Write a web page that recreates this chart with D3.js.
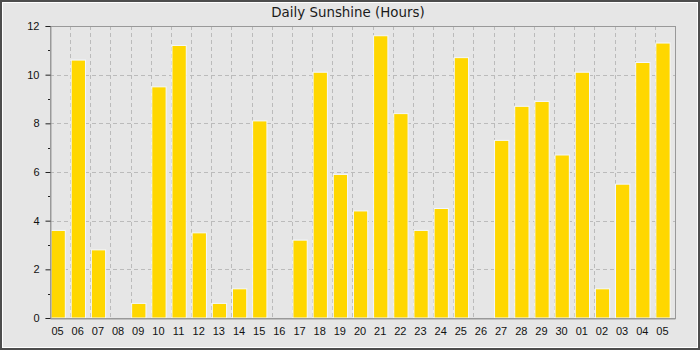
<!DOCTYPE html>
<html>
<head>
<meta charset="utf-8">
<script src="https://cdn.jsdelivr.net/npm/d3@7"></script>
<style>
  body { margin: 0; background: #e6e6e6; }
  svg { display: block; font-family: "DejaVu Sans", sans-serif; }
</style>
</head>
<body>
<div id="container"></div>
<script>
// day labels along the x axis
const days = ["05","06","07","08","09","10","11","12","13","14","15","16","17","18","19","20",
  "21","22","23","24","25","26","27","28","29","30","01","02","03","04","05"]
// hours of sunshine per day
const sunshine = [3.6, 10.6, 2.8, 0, 0.6, 9.5, 11.2, 3.5, 0.6, 1.2, 8.1, 0, 3.2, 10.1, 5.9, 4.4,
  11.6, 8.4, 3.6, 4.5, 10.7, 0, 7.3, 8.7, 8.9, 6.7, 10.1, 1.2, 5.5, 10.5, 11.3]
const yTicks = [0, 2, 4, 6, 8, 10, 12]
const yMinor = [1, 3, 5, 7, 9, 11]

const W = 700, H = 350
const margin = { top: 26, right: 25, bottom: 32, left: 50 }
const width = W - margin.left - margin.right
const height = H - margin.top - margin.bottom

const svg = d3.select("#container")
  .append("svg")
  .attr("width", W)
  .attr("height", H)

// frame
svg.append("rect").attr("x", 0).attr("y", 0).attr("width", W).attr("height", H).attr("fill", "#e6e6e6")
svg.append("rect").attr("x", 1).attr("y", 1).attr("width", W - 2).attr("height", H - 2)
  .attr("fill", "none").attr("stroke", "#4d4d4d").attr("stroke-width", 2)
svg.append("rect").attr("x", 2.5).attr("y", 2.5).attr("width", W - 5).attr("height", H - 5)
  .attr("fill", "none").attr("stroke", "#fff").attr("stroke-width", 1)

svg.append("text")
  .attr("x", 348).attr("y", 16.5)
  .attr("text-anchor", "middle")
  .style("font-size", "13.4px")
  .attr("fill", "#1a1a1a")
  .text("Daily Sunshine (Hours)")

const g = svg.append("g").attr("transform", `translate(${margin.left}, ${margin.top})`)

// index scale so duplicate labels ("05") keep separate bands
const xScale = d3.scaleBand()
  .domain(d3.range(days.length))
  .range([0, width])

const yScale = d3.scaleLinear()
  .domain([0, 12])
  .range([height, 0])

// grid
g.append("g")
  .selectAll("line")
  .data(d3.range(1, days.length))
  .join("line")
  .attr("x1", i => Math.round(xScale(i)) + 0.5)
  .attr("x2", i => Math.round(xScale(i)) + 0.5)
  .attr("y1", 0).attr("y2", height)
  .attr("stroke", "#bbb").attr("stroke-dasharray", "4,3")

g.append("g")
  .selectAll("line")
  .data(yTicks.slice(1, -1))
  .join("line")
  .attr("x1", 0).attr("x2", width)
  .attr("y1", d => Math.round(yScale(d)) + 0.5)
  .attr("y2", d => Math.round(yScale(d)) + 0.5)
  .attr("stroke", "#bbb").attr("stroke-dasharray", "4,3")

// bars
g.append("g")
  .selectAll("rect")
  .data(sunshine)
  .join("rect")
  .attr("x", (d, i) => xScale(i) + 1)
  .attr("y", d => yScale(d))
  .attr("width", xScale.bandwidth() * 0.71)
  .attr("height", d => height - yScale(d))
  .attr("fill", "#ffd700")
  .attr("stroke", d => d > 0 ? "#f4f8ff" : "none")
  .attr("stroke-width", 1)

// plot border
g.append("rect")
  .attr("x", 0.5).attr("y", 0.5).attr("width", width).attr("height", height)
  .attr("fill", "none").attr("stroke", "#999")

// y axis
const yAxis = g.append("g")
  .attr("transform", "translate(0.5,0)")
  .call(d3.axisLeft(yScale).tickValues(yTicks).tickSize(5).tickFormat(d3.format("d")))
yAxis.select(".domain").attr("stroke", "#999")
yAxis.selectAll(".tick line").attr("stroke", "#222")
yAxis.selectAll("text").style("font-size", "11px").attr("fill", "#111").attr("dx", "-3")

g.append("g")
  .selectAll("line")
  .data(yMinor)
  .join("line")
  .attr("x1", -2).attr("x2", 0)
  .attr("y1", d => Math.round(yScale(d)) + 0.5)
  .attr("y2", d => Math.round(yScale(d)) + 0.5)
  .attr("stroke", "#222")

// x axis
const xAxis = g.append("g")
  .attr("transform", `translate(0, ${height + 0.5})`)
  .call(d3.axisBottom(xScale).tickSize(0).tickFormat(i => days[i]))
xAxis.select(".domain").attr("stroke", "#999")
xAxis.selectAll("text")
  .style("font-size", "11px")
  .attr("fill", "#111")
  .attr("dy", "1.2em")
  .attr("dx", -2.5)
</script>
</body>
</html>
